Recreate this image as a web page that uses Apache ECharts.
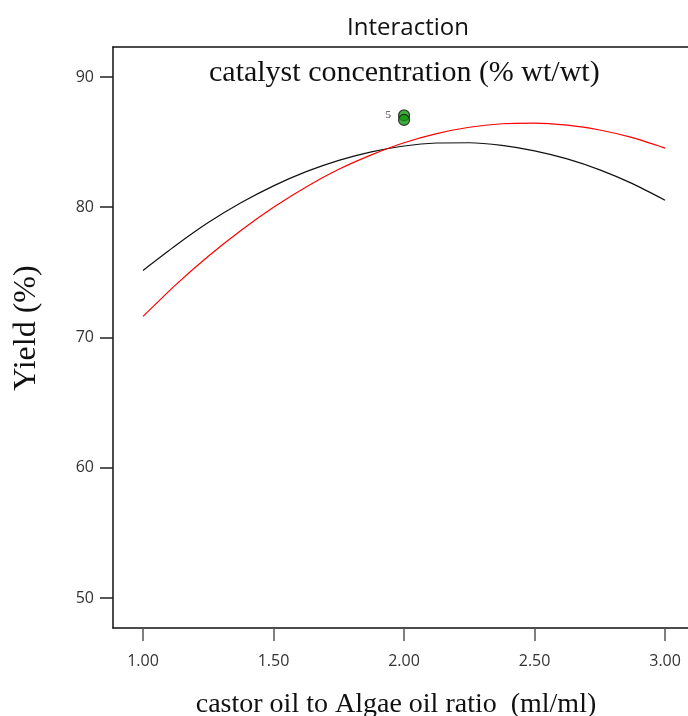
<!DOCTYPE html>
<html>
<head>
<meta charset="utf-8">
<script src="https://cdn.jsdelivr.net/npm/echarts@6/dist/echarts.min.js"></script>
<style>
  html, body { margin: 0; padding: 0; background: #fff; }
  #chart { width: 688px; height: 716px; }
</style>
</head>
<body>
<div id="chart"></div>
<script>
// values
const xSamples = [1.000, 1.125, 1.250, 1.375, 1.500, 1.625, 1.750, 1.875, 2.000,
                  2.125, 2.250, 2.375, 2.500, 2.625, 2.750, 2.875, 3.000];
const blackLine = [75.15, 77.06, 78.82, 80.34, 81.64, 82.73, 83.60, 84.25, 84.70,
                   84.93, 84.95, 84.75, 84.33, 83.71, 82.87, 81.81, 80.54];
const redLine = [71.62, 74.04, 76.24, 78.22, 80.00, 81.56, 82.91, 84.02, 84.95,
                 85.65, 86.14, 86.41, 86.46, 86.30, 85.93, 85.34, 84.54];
const designPoints = [[2.00, 87.05], [2.00, 86.70]];
const pointLabel = '5';
const xTicks = [1.0, 1.5, 2.0, 2.5, 3.0];
const yTicks = [50, 60, 70, 80, 90];

const chart = echarts.init(document.getElementById('chart'));

const sansFont = '"Open Sans", "Noto Sans", sans-serif';
const serifFont = '"Liberation Serif", "DejaVu Serif", serif';

const option = {
  animation: false,
  title: {
    text: 'Interaction',
    left: 403,
    top: 11,
    textAlign: 'center',
    textStyle: { fontFamily: sansFont, fontSize: 24, fontWeight: 'normal', color: '#111' }
  },
  graphic: [
    {
      type: 'text',
      left: 209,
      top: 58,
      style: { text: 'catalyst concentration (% wt/wt)', font: '30px ' + serifFont, fill: '#111' }
    },
    {
      // x axis title
      type: 'text',
      x: 396,
      y: 705,
      style: {
        text: 'castor oil to Algae oil ratio  (ml/ml)',
        font: '28px ' + serifFont,
        fill: '#111',
        align: 'center',
        verticalAlign: 'middle'
      }
    },
    {
      // y axis title
      type: 'text',
      x: 27,
      y: 328,
      rotation: Math.PI / 2,
      style: {
        text: 'Yield (%)',
        font: '32px ' + serifFont,
        fill: '#111',
        align: 'center',
        verticalAlign: 'middle'
      }
    }
  ],
  grid: { left: 113, top: 47, right: -5, bottom: 88, outerBoundsMode: 'none', containLabel: false },
  xAxis: [
    {
      type: 'value',
      min: 0.885,
      max: 3.107,
      splitLine: { show: false },
      axisLine: { onZero: false, lineStyle: { color: '#111', width: 1.5 } },
      axisTick: { customValues: xTicks, length: 13, lineStyle: { color: '#555', width: 1.5 } },
      axisLabel: {
        customValues: xTicks,
        formatter: v => v.toFixed(2),
        margin: 25,
        fontFamily: sansFont,
        fontSize: 16,
        color: '#333'
      }
    },
    {
      type: 'value',
      position: 'top',
      min: 0.885,
      max: 3.107,
      splitLine: { show: false },
      axisLine: { onZero: false, lineStyle: { color: '#111', width: 1.5 } },
      axisTick: { show: false },
      axisLabel: { show: false }
    }
  ],
  yAxis: {
    type: 'value',
    min: 47.7,
    max: 92.3,
    splitLine: { show: false },
    axisLine: { show: true, onZero: false, lineStyle: { color: '#111', width: 1.5 } },
    axisTick: { show: true, customValues: yTicks, length: 13, lineStyle: { color: '#222', width: 1.5 } },
    axisLabel: {
      customValues: yTicks,
      margin: 19,
      fontFamily: sansFont,
      fontSize: 16,
      color: '#333'
    }
  },
  series: [
    {
      name: 'black',
      type: 'line',
      data: xSamples.map((x, i) => [x, blackLine[i]]),
      smooth: 0.2,
      showSymbol: false,
      lineStyle: { color: '#111', width: 1.2 }
    },
    {
      name: 'red',
      type: 'line',
      data: xSamples.map((x, i) => [x, redLine[i]]),
      smooth: 0.2,
      showSymbol: false,
      lineStyle: { color: '#ff0000', width: 1.2 }
    },
    {
      name: 'points',
      type: 'scatter',
      data: designPoints,
      symbolSize: 11,
      itemStyle: { color: '#119911', borderColor: '#111', borderWidth: 1.2 },
      label: {
        show: true,
        position: 'left',
        distance: 7,
        formatter: p => (p.dataIndex === 0 ? pointLabel : ''),
        fontFamily: serifFont,
        fontSize: 11,
        color: '#000'
      },
      z: 5
    }
  ]
};

chart.setOption(option);
</script>
</body>
</html>
